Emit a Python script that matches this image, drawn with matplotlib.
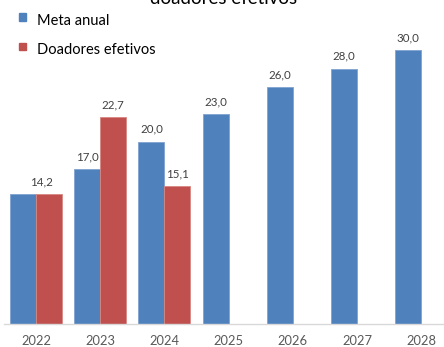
import matplotlib
matplotlib.use("Agg")
import matplotlib.pyplot as plt
import numpy as np

years = ["2022", "2023", "2024", "2025", "2026", "2027", "2028"]
meta_anual = [14.2, 17.0, 20.0, 23.0, 26.0, 28.0, 30.0]
doadores_efetivos = [14.2, 22.7, 15.1, None, None, None, None]
label_meta = ["", "17,0", "20,0", "23,0", "26,0", "28,0", "30,0"]
label_doad = ["14,2", "22,7", "15,1", "", "", "", ""]

BLUE = "#4F81BD"
RED = "#C0504D"
FONT = "Lato"

W, H = 444, 347
fig = plt.figure(figsize=(W / 100, H / 100), dpi=100)
plt.rcParams['font.family'] = [FONT, 'DejaVu Sans']

# axes in pixel coords (plot area partly cropped on right/top)
cat_w = 64.2
x0 = 36 - cat_w / 2
ybase = 324
ymax = 35
px_per_unit = 9.12
left = x0 / W
width = cat_w * 7 / W
bottom = (H - ybase) / H
height = ymax * px_per_unit / H
ax = fig.add_axes([left, bottom, width, height])

x = np.arange(len(years))
bw = 26 / cat_w
ax.bar(x - bw / 2, meta_anual, width=bw, color=BLUE, edgecolor="#7FA3D0", linewidth=0.6)
dv = [v if v is not None else 0 for v in doadores_efetivos]
ax.bar(x + bw / 2, dv, width=bw, color=RED, edgecolor="#D88683", linewidth=0.6)

for i, (v, t) in enumerate(zip(meta_anual, label_meta)):
    if t:
        ax.annotate(t, (x[i] - bw / 2, v), xytext=(0, 5), textcoords="offset points",
                    ha="center", va="bottom", fontsize=8.3, color="#404040")
for i, (v, t) in enumerate(zip(doadores_efetivos, label_doad)):
    if t:
        dx = 0.08 if i == 0 else bw / 2
        ax.annotate(t, (x[i] + dx, v), xytext=(0, 5), textcoords="offset points",
                    ha="center", va="bottom", fontsize=8.3, color="#404040")

ax.set_xlim(-0.5, len(years) - 0.5)
ax.set_ylim(0, ymax)
ax.set_xticks(x)
ax.set_xticklabels(years, fontsize=9.3, color="#595959")
ax.tick_params(axis="x", length=0, pad=8)
ax.set_yticks([])
for s in ["top", "right", "left"]:
    ax.spines[s].set_visible(False)
ax.spines["bottom"].set_color("#D9D9D9")
ax.spines["bottom"].set_linewidth(1)
ax.patch.set_alpha(0)

# title (cropped at top, as in the reference)
fig.text(224 / W, 1 - 4 / H, "doadores efetivos", ha="center", va="baseline",
         fontsize=13.5, color="#000000")

# legend (manual)
for yc, lab, col in [(17, "Meta anual", BLUE), (46.5, "Doadores efetivos", RED)]:
    fig.patches.append(plt.Rectangle(((22.7 - 3.5) / W, 1 - (yc + 3.5) / H), 7 / W, 7 / H,
                                     transform=fig.transFigure, color=col, figure=fig))
    fig.text(37 / W, 1 - (yc + 8) / H, lab, ha="left", va="baseline", fontsize=10.5, color="#000000")

fig.savefig("out.png", dpi=100)
